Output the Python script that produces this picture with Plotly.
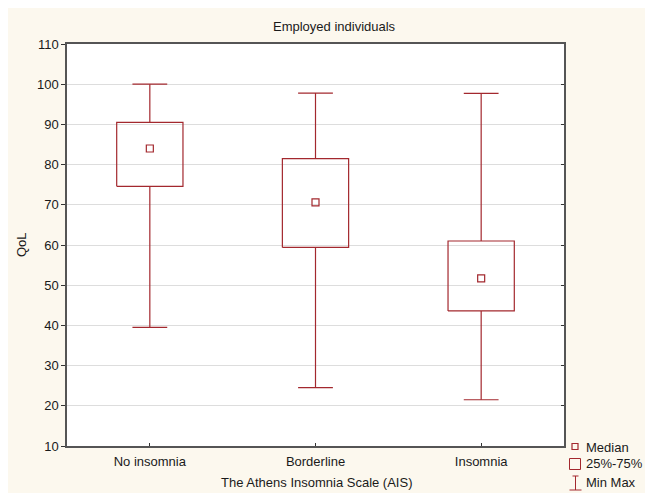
import plotly.graph_objects as go

categories = ["No insomnia", "Borderline", "Insomnia"]
q_min = [39.5, 24.5, 21.5]
q1 = [74.6, 59.4, 43.6]
median = [84.0, 70.6, 51.7]
q3 = [90.5, 81.5, 61.0]
q_max = [100.0, 97.8, 97.7]
y_ticks = [10, 20, 30, 40, 50, 60, 70, 80, 90, 100, 110]

RED = "#A3282E"
OFF = 8  # page body margin
W, H = 645, 485
ML, MR, MT, MB = 59, 89, 36, 47
PW, PH = W - ML - MR, H - MT - MB


def px(x):  # screen pixel -> paper
    return (x - OFF - ML) / PW


def py(y):
    return (H + OFF - MB - y) / PH


bw, cw = 0.2, 0.105
xs = list(range(len(categories)))

box_x, box_y, wh_x, wh_y = [], [], [], []
for i in xs:
    box_x += [i - bw, i + bw, i + bw, i - bw, i - bw, None]
    box_y += [q1[i], q1[i], q3[i], q3[i], q1[i], None]
    wh_x += [i, i, None, i - cw, i + cw, None, i, i, None, i - cw, i + cw, None]
    wh_y += [q3[i], q_max[i], None, q_max[i], q_max[i], None,
             q1[i], q_min[i], None, q_min[i], q_min[i], None]

fig = go.Figure()
fig.add_trace(go.Scatter(x=wh_x, y=wh_y, mode="lines",
                         line=dict(color=RED, width=1.2), showlegend=False,
                         hoverinfo="skip"))
fig.add_trace(go.Scatter(x=box_x, y=box_y, mode="lines",
                         line=dict(color=RED, width=1.2), showlegend=False,
                         hoverinfo="skip"))
fig.add_trace(go.Scatter(x=xs, y=median, mode="markers",
                         marker=dict(symbol="square-open", size=7,
                                     color=RED, line=dict(width=1.2)),
                         showlegend=False))
fig.add_trace(go.Scatter(x=[0], y=[median[0]], yaxis="y2", mode="markers",
                         marker=dict(opacity=0), showlegend=False,
                         hoverinfo="skip"))

font = dict(family="Liberation Sans, Arial, sans-serif", size=13, color="#1a1a1a")

shapes = [
    dict(type="rect", xref="paper", yref="paper", x0=px(572), x1=px(578),
         y0=py(449.5), y1=py(443.5), line=dict(color=RED, width=1.2)),
    dict(type="rect", xref="paper", yref="paper", x0=px(569.5), x1=px(580.5),
         y0=py(469.5), y1=py(458.5), line=dict(color=RED, width=1)),
    dict(type="line", xref="paper", yref="paper", x0=px(575.5), x1=px(575.5),
         y0=py(490), y1=py(476), line=dict(color=RED, width=1)),
    dict(type="line", xref="paper", yref="paper", x0=px(569.5), x1=px(581.5),
         y0=py(490), y1=py(490), line=dict(color=RED, width=1)),
    dict(type="line", xref="paper", yref="paper", x0=px(572.5), x1=px(578.5),
         y0=py(476), y1=py(476), line=dict(color=RED, width=1)),
]

annotations = [
    dict(text="Employed individuals", xref="paper", yref="paper",
         x=px(334), y=py(27), showarrow=False, font=font,
         xanchor="center", yanchor="middle"),
    dict(text="The Athens Insomnia Scale (AIS)", xref="paper", yref="paper",
         x=px(316), y=py(482), showarrow=False, font=font,
         xanchor="center", yanchor="middle"),
    dict(text="QoL", xref="paper", yref="paper", x=px(21), y=py(245),
         showarrow=False, font=font, textangle=-90,
         xanchor="center", yanchor="middle"),
]
for txt, yy in [("Median", 447), ("25%-75%", 464), ("Min Max", 482)]:
    annotations.append(dict(text=txt, xref="paper", yref="paper", x=px(584),
                            y=py(yy), showarrow=False, font=font,
                            xanchor="left", yanchor="middle"))

fig.update_layout(
    width=W, height=H,
    margin=dict(l=ML, r=MR, t=MT, b=MB),
    paper_bgcolor="#FCF8EE", plot_bgcolor="white",
    font=font,
    showlegend=False,
    xaxis=dict(range=[-0.5, 2.5], tickvals=xs, ticktext=categories,
               ticks="inside", ticklen=3, tickcolor="#333333",
               ticklabelstandoff=3,
               showline=True, linecolor="#555555", linewidth=1.5, mirror=True,
               showgrid=False, zeroline=False, fixedrange=True),
    yaxis=dict(range=[10, 110], tickvals=y_ticks, ticks="outside", ticklen=4,
               tickcolor="#333333", showline=True, linecolor="#555555",
               linewidth=1.5, mirror=True, showgrid=True, gridcolor="#DDDDDD",
               gridwidth=1, zeroline=False, fixedrange=True),
    yaxis2=dict(range=[10, 110], tickvals=y_ticks, overlaying="y", side="right",
                ticks="inside", ticklen=3, tickcolor="#333333",
                showticklabels=False, showgrid=False, zeroline=False),
    shapes=shapes,
    annotations=annotations,
)

fig.write_html("out.html")
